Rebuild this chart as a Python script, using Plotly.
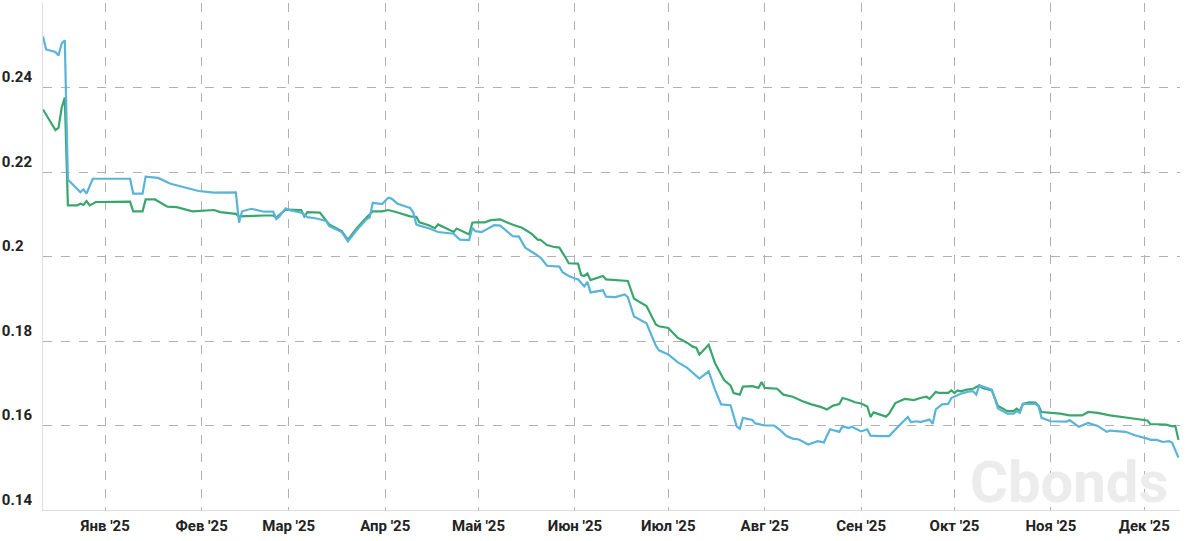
import pandas as pd
import plotly.graph_objects as go

# Day offsets from 2025-01-01 and yield values
blue_days = [-20,-19,-16,-15,-14,-13,-12,-8,-7,-6,-4,8,9,12,13,17,21,30,35,42,43,44,47,49,51,54,55,56,58,59,
             63,65,68,71,72,76,78,81,84,85,86,89,91,92,94,98,99,100,101,104,107,112,114,117,118,119,121,123,125,127,
             129,131,133,135,138,140,142,146,147,149,151,152,154,155,156,160,161,164,167,168,170,174,177,178,181,184,187,189,191,194,
             196,198,201,203,204,205,208,209,212,215,217,219,221,223,226,229,231,233,236,237,239,240,243,245,246,249,252,255,258,259,
             261,262,265,266,267,269,271,272,274,275,278,279,280,281,285,286,287,290,292,293,294,295,299,300,301,304,309,310,311,313,
             316,319,322,323,328,331,335,336,338,340,342,343,345]
blue_vals = [0.2521,0.2490,0.2484,0.2476,0.2504,0.2512,0.2182,0.2152,0.2159,0.2149,0.2184,0.2184,0.2149,0.2149,0.2189,0.2186,0.2172,0.2155,0.2151,0.2152,
             0.2080,0.2107,0.2113,0.2110,0.2106,0.2106,0.2089,0.2095,0.2114,0.2110,0.2104,0.2093,0.2090,0.2084,0.2072,0.2058,0.2036,0.2064,0.2088,0.2092,
             0.2127,0.2124,0.2139,0.2137,0.2125,0.2115,0.2104,0.2076,0.2073,0.2067,0.2058,0.2054,0.2040,0.2039,0.2068,0.2060,0.2058,0.2066,0.2074,0.2073,
             0.2060,0.2048,0.2047,0.2021,0.2007,0.1997,0.1978,0.1976,0.1963,0.1954,0.1948,0.1946,0.1929,0.1940,0.1915,0.1920,0.1905,0.1904,0.1910,0.1904,
             0.1858,0.1842,0.1789,0.1778,0.1768,0.1750,0.1737,0.1725,0.1711,0.1728,0.1685,0.1650,0.1648,0.1598,0.1592,0.1618,0.1613,0.1605,0.1600,0.1600,
             0.1589,0.1575,0.1569,0.1567,0.1555,0.1563,0.1560,0.1591,0.1585,0.1598,0.1594,0.1597,0.1586,0.1591,0.1576,0.1575,0.1575,0.1598,0.1620,0.1608,
             0.1610,0.1608,0.1614,0.1604,0.1638,0.1650,0.1651,0.1665,0.1673,0.1675,0.1681,0.1681,0.1673,0.1695,0.1685,0.1665,0.1640,0.1628,0.1628,0.1634,
             0.1630,0.1651,0.1651,0.1646,0.1618,0.1610,0.1609,0.1613,0.1608,0.1597,0.1606,0.1599,0.1585,0.1588,0.1585,0.1577,0.1569,0.1566,0.1566,0.1561,
             0.1563,0.1559,0.1524]

green_days = [-20,-16,-15,-14,-13,-12,-9,-8,-7,-6,-5,-3,8,9,12,13,16,20,23,28,35,37,42,43,51,54,55,58,63,64,
              65,69,72,76,78,81,84,86,89,91,94,98,100,101,104,106,107,110,112,113,115,117,118,119,122,124,127,129,132,134,
              137,139,140,142,144,146,148,149,152,153,154,155,156,160,161,167,168,170,174,177,178,181,184,187,189,190,191,194,196,199,
              201,202,204,205,208,210,211,212,216,218,221,224,227,230,232,234,236,237,239,241,243,245,246,247,251,252,254,257,260,262,
              264,265,267,268,271,272,273,274,275,277,279,281,282,285,286,287,290,292,293,294,295,297,299,300,301,304,307,310,314,316,
              319,323,328,331,335,336,338,341,343,344,345]
green_vals = [0.2348,0.2299,0.2305,0.2352,0.2376,0.2121,0.2121,0.2125,0.2122,0.2131,0.2121,0.2129,0.2130,0.2107,0.2107,0.2135,0.2135,0.2118,0.2117,0.2107,
              0.2110,0.2105,0.2101,0.2095,0.2097,0.2097,0.2092,0.2111,0.2110,0.2095,0.2105,0.2104,0.2076,0.2060,0.2040,0.2068,0.2092,0.2107,0.2107,0.2110,
              0.2104,0.2095,0.2094,0.2081,0.2074,0.2067,0.2076,0.2064,0.2058,0.2066,0.2058,0.2052,0.2080,0.2081,0.2081,0.2086,0.2088,0.2081,0.2073,0.2068,
              0.2054,0.2040,0.2039,0.2027,0.2023,0.2021,0.1997,0.1984,0.1983,0.1956,0.1954,0.1960,0.1944,0.1954,0.1946,0.1944,0.1942,0.1900,0.1883,0.1839,
              0.1835,0.1831,0.1808,0.1796,0.1786,0.1784,0.1768,0.1791,0.1748,0.1707,0.1695,0.1677,0.1673,0.1692,0.1693,0.1689,0.1703,0.1689,0.1687,0.1673,
              0.1668,0.1658,0.1650,0.1644,0.1638,0.1647,0.1651,0.1665,0.1661,0.1655,0.1652,0.1645,0.1620,0.1631,0.1621,0.1628,0.1653,0.1663,0.1660,0.1665,
              0.1668,0.1663,0.1680,0.1677,0.1677,0.1683,0.1677,0.1683,0.1681,0.1685,0.1687,0.1695,0.1689,0.1683,0.1663,0.1646,0.1634,0.1634,0.1640,0.1634,
              0.1651,0.1655,0.1654,0.1647,0.1632,0.1630,0.1628,0.1624,0.1624,0.1632,0.1630,0.1624,0.1620,0.1616,0.1612,0.1603,0.1603,0.1602,0.1598,0.1599,
              0.1566]

month_ticks = ["2025-01-01","2025-02-01","2025-03-01","2025-04-01","2025-05-01","2025-06-01",
               "2025-07-01","2025-08-01","2025-09-01","2025-10-01","2025-11-01","2025-12-01"]
month_labels = ["Янв '25","Фев '25","Мар '25","Апр '25","Май '25","Июн '25",
                "Июл '25","Авг '25","Сен '25","Окт '25","Ноя '25","Дек '25"]
y_ticks = [0.14, 0.16, 0.18, 0.20, 0.22, 0.24, 0.26]
y_labels = ["0.14", "0.16", "0.18", "0.2\u2007", "0.22", "0.24", ""]

base = pd.Timestamp("2025-01-01")
blue_dates = base + pd.to_timedelta(blue_days, unit="D")
green_dates = base + pd.to_timedelta(green_days, unit="D")

fig = go.Figure()
fig.add_trace(go.Scatter(x=green_dates, y=green_vals, mode="lines",
                         line=dict(color="#3aa66c", width=2.2), showlegend=False))
fig.add_trace(go.Scatter(x=blue_dates, y=blue_vals, mode="lines",
                         line=dict(color="#5ab4d9", width=2.2), showlegend=False))

tickfont = dict(family="Roboto", size=15, color="#222222", weight="bold")
fig.update_layout(
    width=1198, height=541,
    margin=dict(l=43, r=18, t=3, b=31),
    paper_bgcolor="white", plot_bgcolor="white",
    font=dict(family="Roboto"),
    xaxis=dict(
        range=["2024-12-12", "2025-12-12 12:00"],
        tickvals=month_ticks, ticktext=month_labels, tickfont=tickfont,
        showgrid=True, gridcolor="#b0b0b0", griddash="dash", gridwidth=1,
        showline=True, linecolor="#dddddd", linewidth=1,
        ticks="", zeroline=False, ticklabelstandoff=2,
    ),
    yaxis=dict(
        range=[0.14, 0.26],
        tickvals=y_ticks, ticktext=y_labels, tickfont=tickfont,
        ticklabelposition="outside top", ticklabelstandoff=7,
        showgrid=True, gridcolor="#b0b0b0", griddash="dash", gridwidth=1,
        showline=True, linecolor="#dddddd", linewidth=1,
        ticks="", zeroline=False,
    ),
)
fig.add_annotation(text="Cbonds", xref="paper", yref="paper", x=0.991, y=0.056,
                   xanchor="right", yanchor="middle", showarrow=False,
                   font=dict(family="Roboto", size=58, color="#ececec", weight="bold"))

fig.write_html("out.html", config={"displayModeBar": False},
               post_script="document.body.style.margin='0';")
